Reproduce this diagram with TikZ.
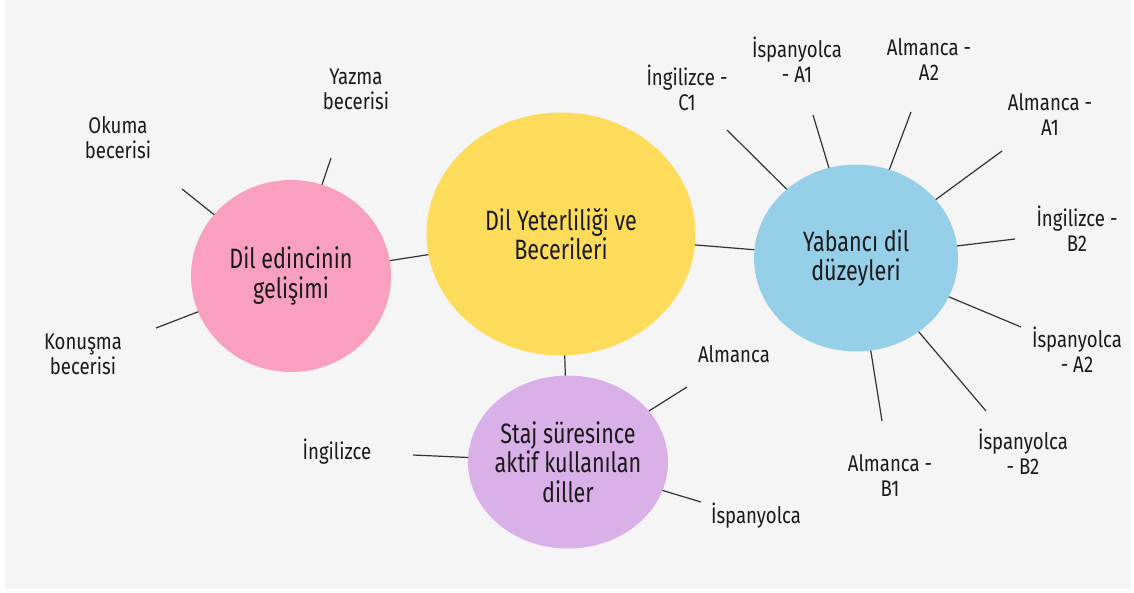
\documentclass[tikz,border=0pt]{standalone}
\usepackage{fontspec}
\setmainfont[FakeStretch=0.82]{Fira Sans}
\newfontfamily\bubblefont[FakeStretch=0.77]{Fira Sans}
\usetikzlibrary{shapes.geometric}
\definecolor{bggray}{HTML}{F5F5F5}
\definecolor{pinkc}{HTML}{F9A0C0}
\definecolor{yellowc}{HTML}{FDDC5C}
\definecolor{bluec}{HTML}{96CFE8}
\definecolor{purplec}{HTML}{DAB0E8}
\definecolor{inkc}{HTML}{1A1A1A}
\definecolor{linec}{HTML}{333333}
\begin{document}
\begin{tikzpicture}[x=0.75pt,y=-0.75pt,
	bubble/.style={ellipse,inner sep=0pt,outer sep=0pt},
	bubbletext/.style={inner sep=0pt,text=inkc,align=center,font=\bubblefont\fontsize{21}{22}\selectfont},
	leaf/.style={inner sep=0pt,text=inkc,align=center,font=\fontsize{17}{18.75}\selectfont},
	link/.style={draw=linec,line width=0.9pt}]
	\useasboundingbox (0,0) rectangle (1134,592);
	\fill[bggray] (5,0) rectangle (1131,589);

	% four bubbles, text set as a centred label
	\node[bubble,fill=yellowc,minimum width=201.75pt,minimum height=182.25pt,
		label={[bubbletext]center:Dil Yeterliliği ve\\Becerileri}] (core) at (561,234) {};
	\node[bubble,fill=pinkc,minimum width=150pt,minimum height=144pt,
		label={[bubbletext]center:Dil edincinin\\gelişimi}] (edinc) at (291,276) {};
	\node[bubble,fill=bluec,minimum width=153pt,minimum height=140.25pt,
		label={[bubbletext]center:Yabancı dil\\düzeyleri}] (duzey) at (856,258) {};
	\node[bubble,fill=purplec,minimum width=150pt,minimum height=129.75pt,
		label={[bubbletext]center:Staj süresince\\aktif kullanılan\\diller}] (staj) at (568,462) {};

	\draw[link] (edinc) -- (core);
	\draw[link] (core) -- (duzey);
	\draw[link] (core) -- (staj);

	% labels
	\node[leaf] (okuma) at (118,138) {Okuma\\becerisi};
	\node[leaf] (yazma) at (356,89) {Yazma\\becerisi};
	\node[leaf] (konusma) at (83,354) {Konuşma\\becerisi};

	\node[leaf] (ingc1) at (687,88) {İngilizce -\\C1};
	\node[leaf] (ispa1) at (797,60) {İspanyolca\\- A1};
	\node[leaf] (alma2) at (929,59) {Almanca -\\A2};
	\node[leaf] (alma1) at (1050,114) {Almanca -\\A1};
	\node[leaf] (ingb2) at (1077,229) {İngilizce -\\B2};
	\node[leaf] (ispa2) at (1077,350) {İspanyolca\\- A2};
	\node[leaf] (ispb2) at (1023,452) {İspanyolca\\- B2};
	\node[leaf] (almb1) at (890,475) {Almanca -\\B1};

	\node[leaf] (alm) at (734,354) {Almanca};
	\node[leaf] (ing) at (337,452) {İngilizce};
	\node[leaf] (isp) at (756,516) {İspanyolca};

	% free ends of the spokes
	\coordinate (e-okuma) at (182,189);
	\coordinate (e-yazma) at (331,158);
	\coordinate (e-konusma) at (156,328);
	\coordinate (e-ingc1) at (727,130);
	\coordinate (e-ispa1) at (813,115);
	\coordinate (e-alma2) at (911,112);
	\coordinate (e-alma1) at (1002,151);
	\coordinate (e-ingb2) at (1015,239);
	\coordinate (e-ispa2) at (1021,327);
	\coordinate (e-ispb2) at (986,411);
	\coordinate (e-almb1) at (882,421);
	\coordinate (e-alm) at (687,387);
	\coordinate (e-ing) at (413,455);
	\coordinate (e-isp) at (701,502);

	\foreach \e in {okuma,yazma,konusma}
		\draw[link] (edinc) -- (e-\e);
	\foreach \e in {ingc1,ispa1,alma2,alma1,ingb2,ispa2,ispb2,almb1}
		\draw[link] (duzey) -- (e-\e);
	\foreach \e in {alm,ing,isp}
		\draw[link] (staj) -- (e-\e);
\end{tikzpicture}
\end{document}
